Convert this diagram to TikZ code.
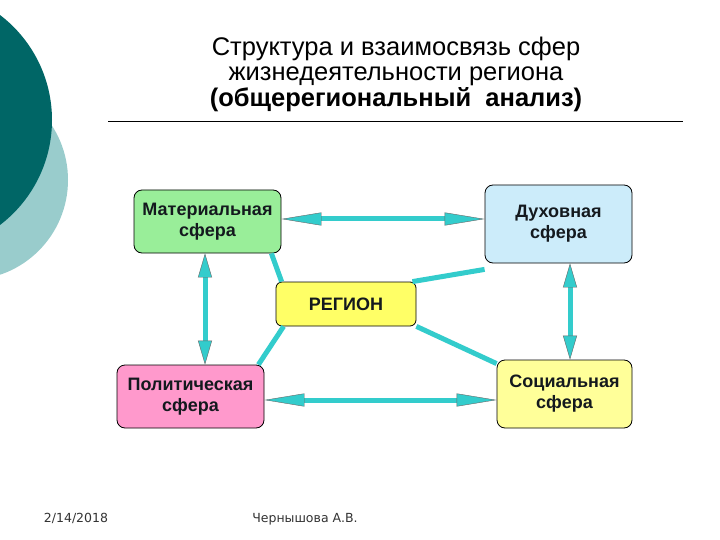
\documentclass[tikz,border=0pt]{standalone}
\usepackage{fontspec}
\setmainfont{Liberation Sans}
\newfontfamily\footfont{DejaVu Sans}
\usetikzlibrary{arrows.meta}
\definecolor{darkteal}{RGB}{0,102,102}
\definecolor{lightteal}{RGB}{153,204,204}
\definecolor{linkteal}{RGB}{51,204,204}
\definecolor{matgreen}{RGB}{153,238,153}
\definecolor{spiblue}{RGB}{204,236,250}
\definecolor{regyellow}{RGB}{255,255,102}
\definecolor{polpink}{RGB}{255,153,204}
\definecolor{socyellow}{RGB}{255,255,153}
\definecolor{boxtext}{RGB}{20,25,30}
\tikzset{
  sphere/.style={draw=black, line width=0.8pt, rounded corners=8pt, align=center, font=\bfseries\fontsize{18}{21}\selectfont, text=boxtext, inner sep=0pt},
  link/.style={draw=linkteal, line width=5pt},
  harrow/.style={draw=linkteal, line width=5pt,
    {Triangle[length=40pt,width=13pt,fill=linkteal,color=black!60,line width=0.4pt]}-{Triangle[length=40pt,width=13pt,fill=linkteal,color=black!60,line width=0.4pt]}},
  varrow/.style={draw=linkteal, line width=5pt,
    {Triangle[length=24pt,width=14pt,fill=linkteal,color=black!60,line width=0.4pt]}-{Triangle[length=24pt,width=14pt,fill=linkteal,color=black!60,line width=0.4pt]}},
  footer/.style={font=\footfont\fontsize{12.5}{15}\selectfont, text=black!80, anchor=base}
}
\begin{document}
\begin{tikzpicture}[x=1pt,y=-1pt]
\useasboundingbox (0,0) rectangle (720,540);
\fill[white] (0,0) rectangle (720,540);
\begin{scope}
\clip (0,0) rectangle (720,540);
\fill[lightteal] (-32,180) circle (100);
\fill[darkteal] (-80,120) circle (132);
\end{scope}
\node[align=center, font=\fontsize{25.5}{25.5}\selectfont] (title) at (396,74)
  {Структура и взаимосвязь сфер\\жизнедеятельности региона\\\textbf{(общерегиональный\ \ анализ)}};
\coordinate (rl) at (108,121);
\coordinate (rr) at (683,121);
\draw[line width=0.8pt] (rl) -- (rr);

\node[sphere, fill=matgreen, minimum width=147pt, minimum height=63pt] (mat) at (207.5,221.5) {Материальная\\сфера};
\node[sphere, fill=spiblue, minimum width=147pt, minimum height=78pt] (spi) at (558.5,224) {\raisebox{-3pt}{\parbox{140pt}{\centering Духовная\\сфера}}};
\node[sphere, fill=regyellow, minimum width=140pt, minimum height=44pt, rounded corners=6pt] (reg) at (346,304) {РЕГИОН};
\node[sphere, fill=polpink, minimum width=147pt, minimum height=63pt] (pol) at (190.5,396.5) {Политическая\\сфера};
\node[sphere, fill=socyellow, minimum width=135pt, minimum height=68pt] (soc) at (564.5,394) {Социальная\\сфера};

\draw[link] ([shift={(-10pt,0)}]mat.south east) -- ([shift={(6pt,0)}]reg.north west);
\draw[link] ([shift={(-4pt,0)}]reg.north east) -- ([shift={(0,-6pt)}]spi.south west);
\draw[link] ([shift={(8pt,0)}]reg.south west) -- ([shift={(-6pt,0)}]pol.north east);
\draw[link] (reg.south east) -- ([shift={(0,-4pt)}]soc.north west);

\draw[harrow] (mat.east |- 0,219) -- (spi.west |- 0,219);
\draw[harrow] (pol.east |- 0,400) -- (soc.west |- 0,400);
\draw[varrow] (mat.south -| 205,0) -- (pol.north -| 205,0);
\draw[varrow] (spi.south -| 570,0) -- (soc.north -| 570,0);

\node[footer] (date) at (76,522) {2/14/2018};
\node[footer] (auth) at (305,522) {Чернышова А.В.};
\end{tikzpicture}
\end{document}
